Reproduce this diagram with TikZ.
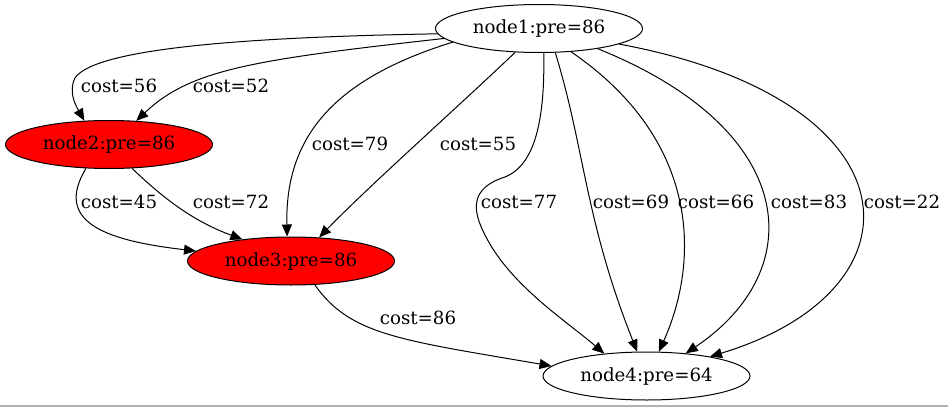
\documentclass[tikz,border=0pt]{standalone}
\usepackage{fontspec}
\setmainfont{DejaVu Serif}
\usetikzlibrary{shapes.geometric,arrows.meta}
\tikzset{
  gnode/.style={ellipse,draw=black,line width=1pt,minimum width=207pt,minimum height=48pt,inner sep=0pt,font=\fontsize{18.2}{20}\selectfont},
  rednode/.style={gnode,fill=red},
  edge/.style={draw=black,line width=1pt,-{Triangle[length=12pt,width=10pt]}},
  lab/.style={inner sep=0pt,font=\fontsize{18.2}{20}\selectfont}
}
\begin{document}
\begin{tikzpicture}[x=1pt,y=-1pt]
\useasboundingbox (0,0) rectangle (948,407);
\fill[white] (0,0) rectangle (948,407);
\fill[gray!60] (0,405) rectangle (948,407);
\node[gnode] (n1) at (539,28.5) {node1:pre=86};
\node[rednode] (n2) at (109,144.5) {node2:pre=86};
\node[rednode] (n3) at (291,261) {node3:pre=86};
\node[gnode] (n4) at (646.5,376) {node4:pre=64};
% node1 -> node2
\draw[edge] (n1.183) .. controls (250,37) and (95,48) .. (75,78) .. controls (68,92) and (76,106) .. (n2.136);
\draw[edge] (n1.186) .. controls (250,60) and (190,70) .. (n2.41);
% node1 -> node3
\draw[edge] (n1.189) .. controls (330,80) and (285,140) .. (n3.99);
\draw[edge] (n1.225) .. controls (460,105) and (370,185) .. (n3.40);
% node2 -> node3
\draw[edge] (n2.226) .. controls (55,220) and (100,240) .. (n3.174);
\draw[edge] (n2.314) .. controls (160,195) and (190,220) .. (n3.156);
% node1 -> node4
\draw[edge] (n1.281) .. controls (545,120) and (535,165) .. (505,177) .. controls (470,188) and (472,210) .. (485,235) .. controls (510,285) and (565,320) .. (n4.152);
\draw[edge] (n1.304) .. controls (585,150) and (585,220) .. (n4.111);
\draw[edge] (n1.324) .. controls (700,140) and (700,260) .. (n4.63);
\draw[edge] (n1.341) .. controls (800,130) and (810,270) .. (n4.30);
\draw[edge] (n1.349) .. controls (920,100) and (930,290) .. (n4.17);
% node3 -> node4
\draw[edge] (n3.315) .. controls (350,335) and (400,340) .. (n4.174);
% labels
\node[lab] (l56) at (119,86) {cost=56};
\node[lab] (l52) at (231,86) {cost=52};
\node[lab] (l79) at (350,144) {cost=79};
\node[lab] (l55) at (478,144) {cost=55};
\node[lab] (l45) at (119,202) {cost=45};
\node[lab] (l72) at (231,202) {cost=72};
\node[lab] (l77) at (519,202) {cost=77};
\node[lab] (l69) at (631,202) {cost=69};
\node[lab] (l66) at (716,202) {cost=66};
\node[lab] (l83) at (809,202) {cost=83};
\node[lab] (l22) at (902,202) {cost=22};
\node[lab] (l86) at (418,318) {cost=86};
\end{tikzpicture}
\end{document}
